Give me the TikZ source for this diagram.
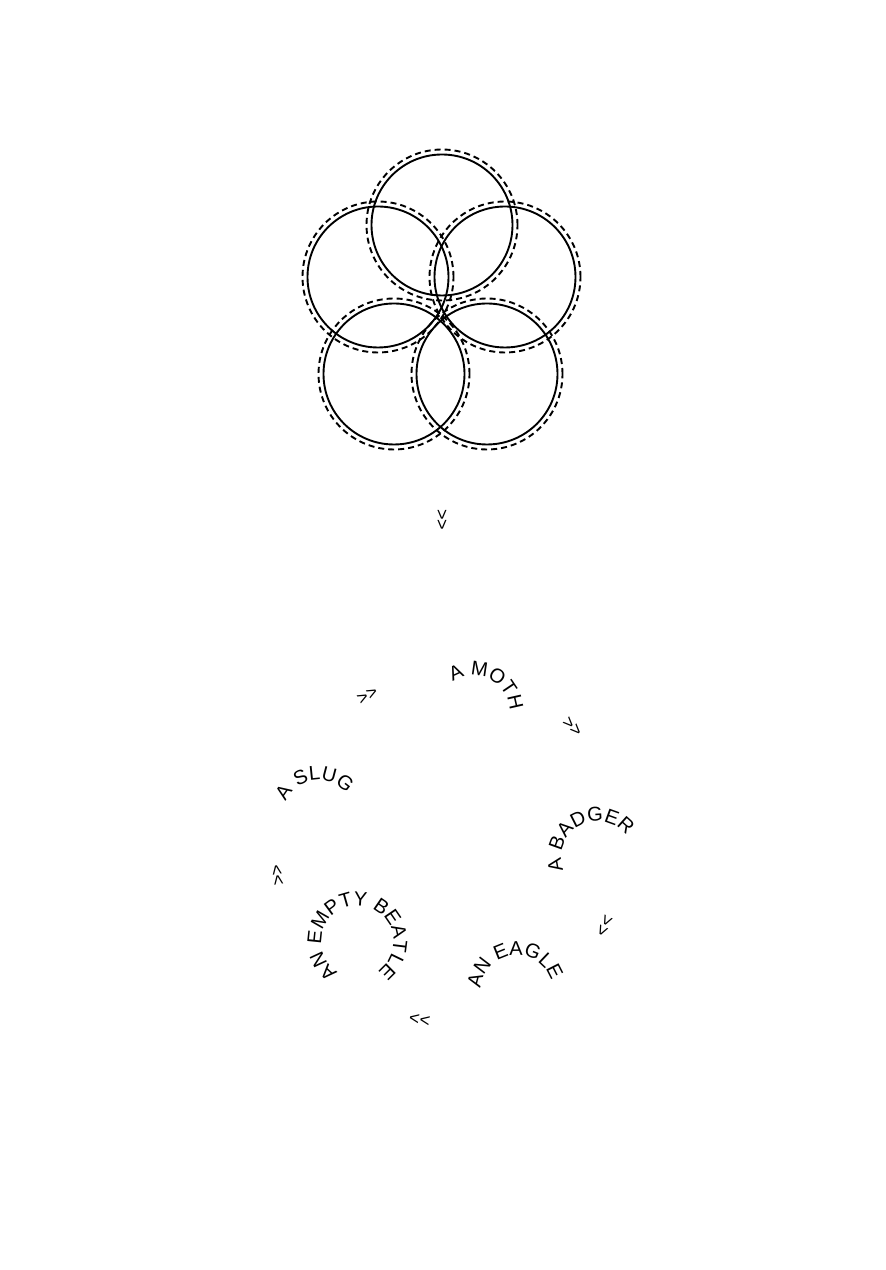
\documentclass[tikz,border=0pt]{standalone}
\usepackage{fontspec}
\setmainfont{Liberation Sans}
\usetikzlibrary{decorations.text}
\newcommand{\bugfont}{\fontsize{20}{20}\selectfont}
\newcommand{\hopfont}{\fontsize{18}{18}\selectfont}

\begin{document}
\begin{tikzpicture}[x=1pt, y=1pt,
    ring/.style={line width=1.9pt},
    halo/.style={line width=1.9pt, dash pattern=on 6pt off 4pt},
    hop/.style={font=\hopfont, inner sep=0pt},
    bug/.style={decorate, decoration={text along path, text={|\bugfont|#1}}}
]
    \useasboundingbox (0,0) rectangle (886,1270);
    % five rings, each with a dashed halo
    \foreach \cx/\cy [count=\i] in {442/1045, 378/993, 505/993, 394/896, 487/896} {
        \coordinate (petal\i) at (\cx,\cy);
        \draw[ring] (petal\i) circle[radius=70.5];
        \draw[halo] (petal\i) circle[radius=75.5];
    }
    \node[hop, rotate=-90] (drop) at (441.3,750) {>\kern0pt>};
    % the cycle
    \coordinate (hub) at (449,421.5);
    \foreach \a [count=\i] in {118,44.6,-26.4,-99.7,-171.1}
        \node[hop, rotate=\a-90] (hop\i) at ([shift={(\a:173)}]hub) {>\kern0pt>};
    \coordinate (moth) at (473.5,558.5);
    \coordinate (badger) at (597.3,412.8);
    \coordinate (eagle) at (516.5,278.8);
    \coordinate (beatle) at (357.3,328.5);
    \coordinate (slug) at (318.7,453.9);
    \path[bug={A MOTH}] (moth) ++(125:36) arc[start angle=125, end angle=-235, radius=36];
    \path[bug={A BADGER}] (badger) ++(201:36) arc[start angle=201, end angle=-159, radius=36];
    \path[bug={AN EAGLE}] (eagle) ++(175.5:36) arc[start angle=175.5, end angle=-184.5, radius=36];
    \path[bug={AN EMPTY BEATLE}] (beatle) ++(237.7:36) arc[start angle=237.7, end angle=-122.3, radius=36];
    \path[bug={A SLUG}] (slug) ++(156:36) arc[start angle=156, end angle=-204, radius=36];
\end{tikzpicture}
\end{document}
